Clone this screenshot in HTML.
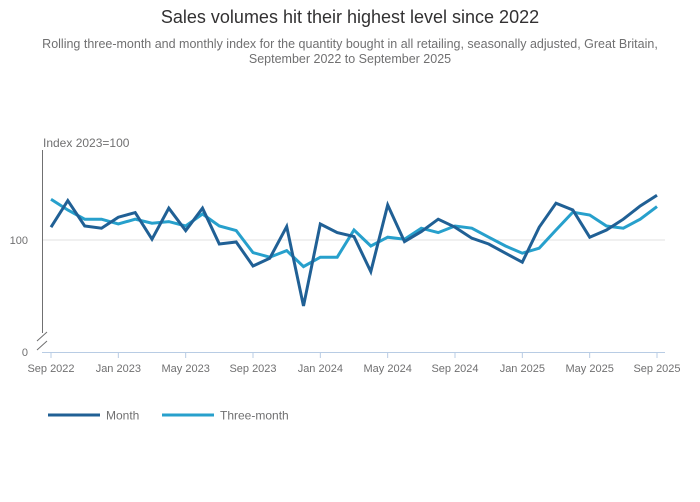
<!DOCTYPE html>
<html><head><meta charset="utf-8"><style>
body{margin:0;background:#fff;font-family:"Liberation Sans",sans-serif;}
#wrap{position:relative;width:700px;height:502px;overflow:hidden}
.t{position:absolute;left:0;width:700px;text-align:center}
</style></head><body>
<div id="wrap">
<div class="t" style="top:7px;font-size:18px;color:#323132">Sales volumes hit their highest level since 2022</div>
<div class="t" style="top:37px;font-size:12.5px;line-height:15px;color:#707071">Rolling three-month and monthly index for the quantity bought in all retailing, seasonally adjusted, Great Britain,<br>September 2022 to September 2025</div>
<svg id="svg" width="700" height="502" style="position:absolute;left:0;top:0"></svg>
</div>
<script>
const months=["Sep 2022","Jan 2023","May 2023","Sep 2023","Jan 2024","May 2024","Sep 2024","Jan 2025","May 2025","Sep 2025"];
const yTicks=[100];
const monthValues=[100.64,101.97,100.70,100.59,101.14,101.37,100.04,101.59,100.47,101.59,99.80,99.90,98.70,99.09,100.67,96.70,100.80,100.37,100.17,98.42,101.75,99.92,100.42,101.04,100.64,100.09,99.80,99.34,98.89,100.64,101.84,101.50,100.14,100.50,101.04,101.70,102.24];
const threeMonthValues=[102.04,101.50,101.04,101.04,100.80,101.04,100.84,100.92,100.70,101.30,100.70,100.47,99.37,99.14,99.47,98.67,99.14,99.14,100.50,99.70,100.14,100.04,100.59,100.37,100.70,100.59,100.14,99.70,99.34,99.59,100.50,101.39,101.25,100.70,100.59,101.04,101.67];
const NS="http://www.w3.org/2000/svg",svg=document.getElementById('svg');
const x=i=>51+i*(657-51)/36;
const y=v=>240-(v-100)*20;
function mk(t,a,txt){const e=document.createElementNS(NS,t);for(const k in a)e.setAttribute(k,a[k]);if(txt!=null)e.textContent=txt;svg.appendChild(e);return e;}
let e;
e=mk('text',{x:43,y:147,'font-size':12,fill:'#707071'},'Index 2023=100');


yTicks.forEach(t=>{
 e=mk('line',{x1:42,x2:665,y1:y(t),y2:y(t),stroke:'#e0e0e0'});
 
 
 e=mk('text',{x:28,y:y(t)+4,'font-size':11,fill:'#707071','text-anchor':'end'},String(t));
 
 
});
e=mk('text',{x:28,y:356,'font-size':11,fill:'#707071','text-anchor':'end'},'0');


e=mk('line',{x1:42.5,x2:42.5,y1:150,y2:333,stroke:'#707071'});


e=mk('path',{d:'M37,341 L47,332 M37,350 L47,341',stroke:'#707071',fill:'none'});


e=mk('line',{x1:42,x2:665,y1:352.5,y2:352.5,stroke:'#b8cce4'});


months.forEach((m,i)=>{
 const xx=x(i*4);
 e=mk('line',{x1:xx,x2:xx,y1:352,y2:358,stroke:'#b8cce4'});
 
 
 e=mk('text',{x:xx,y:372,'font-size':11,fill:'#707071','text-anchor':'middle'},m);
 
 
});
function line(vals,col,name){
 const d=vals.map((v,i)=>(i?'L':'M')+x(i).toFixed(1)+','+y(v).toFixed(1)).join(' ');
 const p=mk('path',{d:d,stroke:col,'stroke-width':3,fill:'none','stroke-linejoin':'miter'});
 
 
}
line(threeMonthValues,'#27a0cc','three-month-line');
line(monthValues,'#206095','month-line');
e=mk('line',{x1:48,x2:100,y1:415,y2:415,stroke:'#206095','stroke-width':3});


e=mk('text',{x:106,y:419.5,'font-size':12,fill:'#707071'},'Month');


e=mk('line',{x1:162,x2:214,y1:415,y2:415,stroke:'#27a0cc','stroke-width':3});


e=mk('text',{x:220,y:419.5,'font-size':12,fill:'#707071'},'Three-month');


</script>
</body></html>
